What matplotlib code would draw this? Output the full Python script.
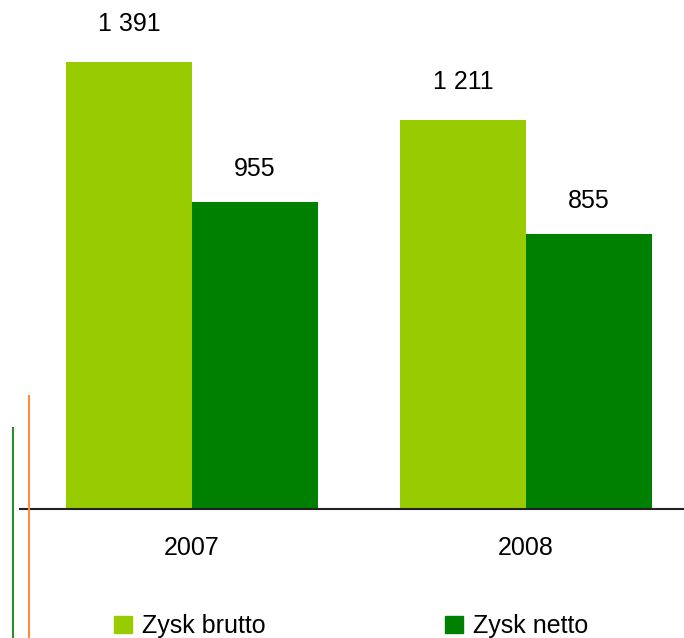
import matplotlib
matplotlib.use('Agg')
import matplotlib.pyplot as plt
from matplotlib.lines import Line2D
from matplotlib.patches import Patch

plt.rcParams['font.family'] = ['Liberation Sans', 'DejaVu Sans']

years = ['2007', '2008']
series = ['Zysk brutto', 'Zysk netto']
brutto = [1391, 1211]
netto = [955, 855]
brutto_labels = ['1 391', '1 211']
netto_labels = ['955', '855']
colors = ['#99CC00', '#008000']

W, H = 684, 638
fig = plt.figure(figsize=(W / 100, H / 100), dpi=100)
base = 129  # baseline distance from bottom, px
ax = fig.add_axes([0, base / H, 1, 1 - base / H])
ax.set_xlim(-192 / 334, (W - 192) / 334)
ax.set_ylim(0, (H - base) / 0.3215)
ax.axis('off')

w = 0.376
x = range(len(years))
ax.bar([i - w / 2 for i in x], brutto, width=w, color=colors[0])
ax.bar([i + w / 2 for i in x], netto, width=w, color=colors[1])

for i in x:
    ax.text(i - w / 2, brutto[i] + 118, brutto_labels[i], ha='center', va='center', fontsize=18)
    ax.text(i + w / 2, netto[i] + 104, netto_labels[i], ha='center', va='center', fontsize=18)
    ax.text(i, -122, years[i], ha='center', va='center', fontsize=18, clip_on=False)

ax.axhline(0, xmin=20 / W, xmax=1, color='#222222', lw=1.5, clip_on=False)

# decorative vertical lines on the left
fig.add_artist(Line2D([12.5 / W, 12.5 / W], [0, (H - 428) / H], color='#2E8B2E', lw=1.5))
fig.add_artist(Line2D([28.7 / W, 28.7 / W], [0, (H - 396) / H], color='#FF8C3C', lw=1.5))

handles = [Patch(color=c) for c in colors]
fig.legend(handles, series, ncol=2, loc='center left', bbox_to_anchor=(114 / W, 12 / H),
           frameon=False, fontsize=18, handlelength=0.7, handleheight=0.7,
           handletextpad=0.4, columnspacing=7.2, borderpad=0, borderaxespad=0)

fig.savefig('out.png', dpi=100)
